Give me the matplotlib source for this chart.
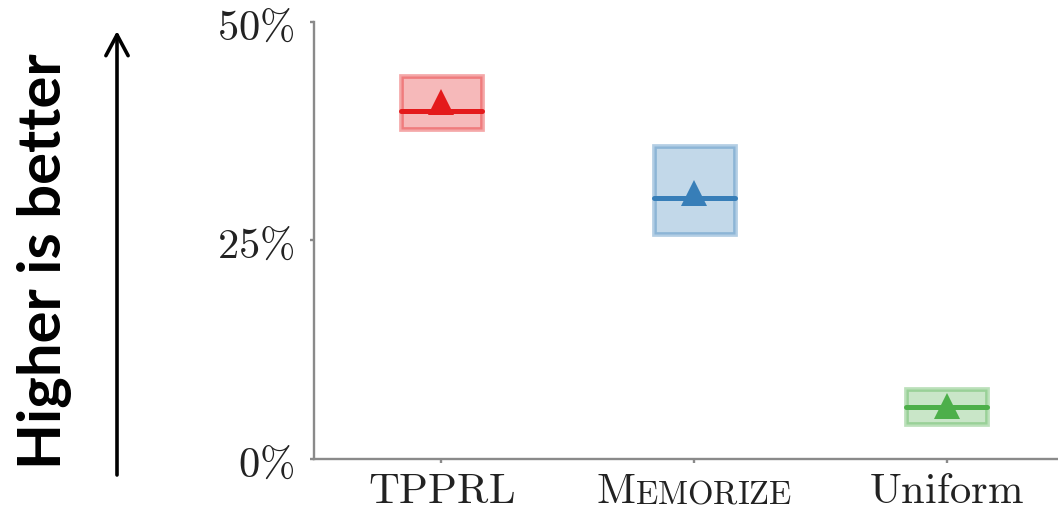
import matplotlib
matplotlib.use("Agg")
import matplotlib.pyplot as plt
from matplotlib import transforms
from matplotlib.colors import to_rgba

plt.rcParams["mathtext.fontset"] = "cm"

# Success rate per scheduling method
methods = ["TPPRL", "Memorize", "Uniform"]
q1 = [0.378, 0.257, 0.040]
medians = [0.398, 0.299, 0.0595]
q3 = [0.438, 0.358, 0.080]
means = [0.408, 0.304, 0.061]
colors = ["#e41a1c", "#377eb8", "#4daf4a"]
yticks = [0.0, 0.25, 0.5]
ytick_labels = [r"$0\%$", r"$25\%$", r"$50\%$"]

FS = 30.7
SPINE = "#8a8a8a"

fig = plt.figure(figsize=(10.58, 5.10), dpi=100)
ax = fig.add_axes([0.297, 0.098, 0.703, 0.857])

positions = list(range(len(methods)))
for pos, lo, med, hi, mu, c in zip(positions, q1, medians, q3, means, colors):
    stats = [{"med": med, "q1": lo, "q3": hi, "whislo": lo, "whishi": hi,
              "mean": mu, "fliers": []}]
    ax.bxp(stats, positions=[pos], widths=0.32, patch_artist=True,
           showcaps=False, showfliers=False, showmeans=True,
           boxprops=dict(facecolor=to_rgba(c, 0.3), edgecolor=to_rgba(c, 0.38),
                         linewidth=3.4),
           whiskerprops=dict(linewidth=0),
           medianprops=dict(color=c, linewidth=3.6, solid_capstyle="round"),
           meanprops=dict(marker="^", markerfacecolor=c, markeredgecolor=c,
                          markersize=19, markeredgewidth=0))

ax.set_xlim(-0.503, 2.44)
ax.set_ylim(0, 0.5)
ax.set_yticks(yticks)
ax.set_yticklabels(ytick_labels, fontsize=FS, color="#222222")
ax.set_xticks(positions)
ax.set_xticklabels([""] * len(methods))
ax.tick_params(axis="both", colors=SPINE, width=1.7, length=3, direction="out")
ax.tick_params(axis="y", labelcolor="#222222", pad=11)
for side in ("top", "right"):
    ax.spines[side].set_visible(False)
for side in ("left", "bottom"):
    ax.spines[side].set_color(SPINE)
    ax.spines[side].set_linewidth(1.7)

# Category labels on a shared baseline below the axis
base = transforms.blended_transform_factory(ax.transData, ax.transAxes)
label_tr = transforms.offset_copy(base, fig=fig, y=-31, units="points")
ax.text(0, 0, r"$\mathrm{TPPRL}$", transform=label_tr, ha="center",
        va="baseline", fontsize=FS, color="#222222")
ax.text(2, 0, r"$\mathrm{Uniform}$", transform=label_tr, ha="center",
        va="baseline", fontsize=FS, color="#222222")

# Small-caps "Memorize"
tM = ax.text(1, 0, r"$\mathrm{M}$", transform=label_tr, ha="left",
             va="baseline", fontsize=FS, color="#222222")
tE = ax.text(1, 0, r"$\mathrm{EMORIZE}$", transform=label_tr, ha="left",
             va="baseline", fontsize=FS * 0.77, color="#222222")
fig.canvas.draw()
r = fig.canvas.get_renderer()
wM = tM.get_window_extent(r).width
wE = tE.get_window_extent(r).width
total = wM + wE
tM.set_transform(transforms.offset_copy(label_tr, fig=fig, x=-total / 2, units="dots"))
tE.set_transform(transforms.offset_copy(label_tr, fig=fig, x=-total / 2 + wM, units="dots"))

# Side annotation with an upward arrow
fig.text(0.0425, 0.488, "Higher is better", rotation=90, ha="center",
         va="center", fontsize=43, fontweight="bold", family="Lato",
         color="black")
ax.annotate("", xy=(117, 478), xytext=(117, 34), xycoords="figure pixels",
            textcoords="figure pixels",
            arrowprops=dict(arrowstyle="->,head_length=0.6,head_width=0.32",
                            mutation_scale=25, lw=2.6, color="black",
                            shrinkA=0, shrinkB=0))

fig.savefig("out.png", dpi=100)
